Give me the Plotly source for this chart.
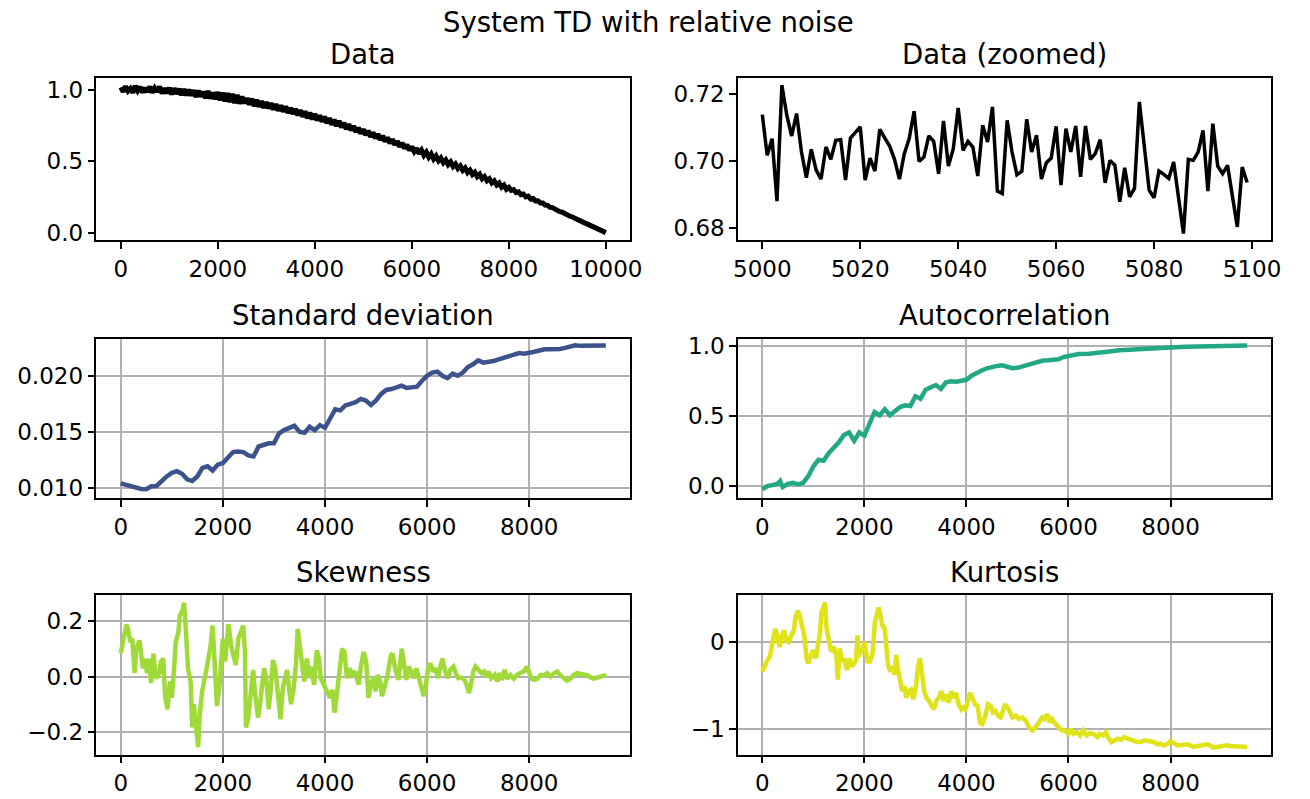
import plotly.graph_objects as go

# ---------------- data ----------------
# Data panel: index (every 50) and values read from the noisy band
data_idx = list(range(0, 10001, 50))
data_val = [
    1.015, 0.985, 1.022, 0.990, 1.008, 0.978, 1.025, 0.992, 1.018, 0.980,
    1.012, 0.983, 1.020, 0.978, 1.010, 0.985, 1.021, 0.972, 1.008, 0.975,
    1.012, 0.966, 1.008, 0.970, 1.005, 0.962, 1.002, 0.960, 0.998, 0.958,
    0.995, 0.948, 0.992, 0.950, 0.985, 0.940, 0.990, 0.938, 0.978, 0.932,
    0.982, 0.925, 0.978, 0.918, 0.975, 0.912, 0.970, 0.905, 0.962, 0.902,
    0.950, 0.905, 0.940, 0.895, 0.935, 0.885, 0.928, 0.880, 0.920, 0.872,
    0.912, 0.868, 0.905, 0.860, 0.898, 0.852, 0.890, 0.845, 0.882, 0.836,
    0.872, 0.830, 0.865, 0.820, 0.857, 0.810, 0.848, 0.800, 0.838, 0.792,
    0.830, 0.784, 0.820, 0.776, 0.810, 0.765, 0.800, 0.755, 0.790, 0.745,
    0.780, 0.736, 0.768, 0.724, 0.758, 0.714, 0.746, 0.703, 0.734, 0.692,
    0.722, 0.682, 0.712, 0.670, 0.700, 0.660, 0.690, 0.648, 0.677, 0.637,
    0.665, 0.625, 0.652, 0.614, 0.640, 0.600, 0.628, 0.588, 0.615, 0.575,
    0.602, 0.566, 0.590, 0.552, 0.576, 0.540, 0.563, 0.527, 0.550, 0.514,
    0.536, 0.502, 0.522, 0.489, 0.508, 0.475, 0.494, 0.462, 0.480, 0.448,
    0.466, 0.435, 0.452, 0.420, 0.437, 0.406, 0.422, 0.391, 0.408, 0.377,
    0.392, 0.363, 0.377, 0.348, 0.362, 0.333, 0.347, 0.318, 0.332, 0.303,
    0.316, 0.295, 0.300, 0.280, 0.285, 0.265, 0.270, 0.250, 0.255, 0.235,
    0.239, 0.222, 0.223, 0.207, 0.207, 0.193, 0.191, 0.177, 0.175, 0.162,
    0.159, 0.147, 0.143, 0.131, 0.127, 0.116, 0.111, 0.101, 0.095, 0.085,
    0.079, 0.070, 0.063, 0.055, 0.047, 0.039, 0.031, 0.024, 0.016, 0.008,
    0.000,
]

# Zoomed data (indices 5000..5099)
zoom_idx = list(range(5000, 5100))
zoom_val = [
    0.7138, 0.7016, 0.7066, 0.6879, 0.7226, 0.7136, 0.7074, 0.7141, 0.7026, 0.6949,
    0.7034, 0.6972, 0.6945, 0.7041, 0.7004, 0.7061, 0.7063, 0.6942, 0.7068, 0.7083,
    0.7101, 0.6942, 0.7008, 0.6969, 0.7094, 0.7068, 0.7044, 0.7004, 0.6945, 0.7021,
    0.7066, 0.7148, 0.6998, 0.7011, 0.7074, 0.7058, 0.6961, 0.7119, 0.6984, 0.7036,
    0.7158, 0.7031, 0.7058, 0.7041, 0.6954, 0.7106, 0.7056, 0.7161, 0.6909, 0.6902,
    0.7121, 0.7026, 0.6958, 0.6968, 0.7124, 0.7026, 0.7076, 0.6945, 0.6994, 0.7008,
    0.7103, 0.6927, 0.7096, 0.7026, 0.7104, 0.6952, 0.7104, 0.7004, 0.7021, 0.7063,
    0.6934, 0.7001, 0.6986, 0.6877, 0.6979, 0.6892, 0.6917, 0.7176, 0.7041, 0.6912,
    0.6889, 0.6969, 0.6959, 0.6947, 0.6996, 0.6887, 0.6782, 0.7004, 0.7001, 0.7026,
    0.7091, 0.6909, 0.7111, 0.6984, 0.6961, 0.6986, 0.6897, 0.6802, 0.6981, 0.6935,
]

# Standard deviation (every 100)
std_idx = list(range(0, 9501, 100))
std_val = [
    0.01038, 0.01025, 0.01006, 0.00994, 0.00988, 0.00985, 0.01012, 0.01015, 0.01059, 0.01100,
    0.01132, 0.01147, 0.01124, 0.01074, 0.01059, 0.01100, 0.01176, 0.01191, 0.01153, 0.01206,
    0.01220, 0.01265, 0.01318, 0.01324, 0.01318, 0.01288, 0.01279, 0.01368, 0.01382, 0.01397,
    0.01397, 0.01485, 0.01515, 0.01529, 0.01553, 0.01500, 0.01491, 0.01544, 0.01515, 0.01559,
    0.01535, 0.01618, 0.01700, 0.01691, 0.01735, 0.01750, 0.01765, 0.01794, 0.01779, 0.01740,
    0.01780, 0.01838, 0.01874, 0.01882, 0.01897, 0.01912, 0.01891, 0.01897, 0.01903, 0.01956,
    0.02000, 0.02029, 0.02038, 0.02000, 0.01979, 0.02020, 0.02000, 0.02029, 0.02079, 0.02103,
    0.02138, 0.02118, 0.02124, 0.02132, 0.02147, 0.02162, 0.02176, 0.02191, 0.02203, 0.02197,
    0.02203, 0.02215, 0.02226, 0.02238, 0.02238, 0.02235, 0.02241, 0.02250, 0.02265, 0.02274,
    0.02268, 0.02268, 0.02271, 0.02274, 0.02274, 0.02271,
]

# Autocorrelation
ac_idx = [0, 50, 100, 200, 300, 350, 400, 500, 600, 700, 800, 900, 1000, 1100, 1200, 1300,
          1400, 1500, 1600, 1700, 1800, 1900, 2000, 2100, 2200, 2300, 2400, 2500, 2600, 2700,
          2800, 2900, 3000, 3100, 3200, 3300, 3400, 3500, 3600, 3700, 3800, 3900, 4000, 4100,
          4200, 4300, 4400, 4500, 4600, 4700, 4800, 4900, 5000, 5100, 5200, 5300, 5400, 5500,
          5600, 5700, 5800, 5900, 6000, 6200, 6400, 6600, 6800, 7000, 7200, 7400, 7600, 7800,
          8000, 8300, 8600, 9000, 9500]
ac_val = [-0.023, -0.012, 0.0, 0.007, 0.016, 0.035, -0.007, 0.016, 0.023, 0.012, 0.023, 0.07,
          0.14, 0.187, 0.18, 0.234, 0.269, 0.311, 0.363, 0.382, 0.321, 0.382, 0.358, 0.452,
          0.527, 0.504, 0.546, 0.504, 0.532, 0.562, 0.574, 0.569, 0.639, 0.621, 0.686, 0.703,
          0.719, 0.691, 0.738, 0.745, 0.742, 0.749, 0.756, 0.785, 0.808, 0.822, 0.838, 0.850,
          0.855, 0.859, 0.850, 0.838, 0.841, 0.853, 0.864, 0.876, 0.888, 0.893, 0.895, 0.900,
          0.902, 0.918, 0.925, 0.939, 0.942, 0.946, 0.958, 0.967, 0.972, 0.977, 0.979, 0.981,
          0.986, 0.991, 0.995, 0.998, 1.0]

# Skewness
sk_idx = [0, 40, 110, 142, 187, 226, 271, 303, 368, 432, 465, 516, 548, 594, 639, 690, 755,
          787, 832, 871, 916, 961, 1000, 1045, 1077, 1129, 1155, 1206, 1239, 1271, 1316, 1368,
          1400, 1432, 1477, 1516, 1542, 1594, 1658, 1710, 1755, 1800, 1839, 1884, 1929, 1968,
          2000, 2045, 2110, 2161, 2206, 2252, 2303, 2355, 2400, 2432, 2452, 2497, 2548, 2594,
          2626, 2690, 2742, 2806, 2852, 2897, 2935, 2981, 3026, 3077, 3129, 3174, 3219, 3258,
          3303, 3335, 3387, 3432, 3465, 3497, 3529, 3561, 3594, 3645, 3690, 3735, 3787, 3839,
          3884, 3916, 3981, 4045, 4097, 4142, 4187, 4239, 4290, 4335, 4381, 4432, 4484, 4529,
          4594, 4658, 4703, 4755, 4806, 4852, 4903, 4948, 4987, 5032, 5077, 5116, 5161, 5226,
          5290, 5323, 5374, 5439, 5503, 5548, 5594, 5645, 5697, 5742, 5787, 5839, 5890, 5935,
          5968, 6019, 6065, 6110, 6161, 6213, 6258, 6303, 6355, 6406, 6452, 6516, 6561, 6613,
          6677, 6729, 6774, 6819, 6858, 6903, 6948, 7000, 7065, 7116, 7161, 7206, 7258, 7323,
          7374, 7419, 7465, 7516, 7568, 7632, 7697, 7761, 7839, 7903, 7955, 8000, 8045, 8110,
          8161, 8226, 8290, 8355, 8419, 8484, 8548, 8613, 8677, 8742, 8806, 8871, 8935, 9013,
          9077, 9142, 9206, 9271, 9335, 9400, 9465, 9500]
sk_val = [0.085, 0.12, 0.188, 0.173, 0.125, 0.137, 0.012, 0.10, 0.131, 0.03, 0.065, 0.012,
          0.065, -0.024, 0.083, -0.006, 0.012, 0.054, 0.065, -0.077, -0.119, -0.018, -0.077,
          0.03, 0.125, 0.161, 0.22, 0.238, 0.268, 0.185, 0.03, -0.018, -0.185, -0.10, -0.173,
          -0.256, -0.149, -0.054, 0.006, 0.054, 0.107, 0.185, 0.065, -0.107, -0.042, 0.065,
          0.137, 0.054, 0.19, 0.113, 0.083, 0.042, 0.137, 0.167, 0.185, 0.089, -0.185, -0.149,
          -0.042, 0.024, -0.054, -0.149, -0.077, 0.03, -0.012, -0.119, -0.054, 0.06, 0.03,
          -0.077, -0.155, -0.042, 0.006, 0.024, -0.054, -0.10, -0.042, 0.048, 0.173, 0.125,
          0.065, 0.006, -0.018, 0.065, -0.006, 0.036, -0.03, 0.095, 0.065, -0.006, -0.03,
          -0.054, -0.077, -0.048, -0.131, -0.054, 0.03, 0.101, 0.089, -0.006, 0.03, 0.006,
          0.018, -0.03, 0.036, 0.089, 0.054, -0.077, -0.018, -0.012, -0.054, 0.006, -0.018,
          -0.071, -0.042, 0.006, 0.077, 0.083, 0.03, -0.012, 0.101, 0.048, -0.012, 0.036,
          0.018, -0.006, 0.03, -0.006, -0.042, -0.071, -0.042, 0.03, 0.048, 0.018, 0.03,
          -0.006, 0.036, 0.065, 0.018, -0.006, 0.024, 0.036, 0.012, -0.006, -0.004, -0.012,
          -0.03, -0.06, -0.03, 0.018, 0.036, 0.024, 0.012, 0.018, 0.0, 0.018, -0.006, 0.006,
          -0.018, 0.012, -0.012, 0.024, -0.008, 0.006, -0.008, 0.006, 0.012, 0.02, 0.036,
          0.012, -0.008, -0.012, -0.008, 0.006, 0.004, 0.012, 0.0, 0.012, 0.018, 0.004,
          -0.008, -0.015, -0.008, 0.006, 0.012, 0.008, 0.006, 0.004, -0.004, -0.008, -0.004,
          0.0, 0.004, 0.0]

# Kurtosis
ku_idx = [0, 39, 84, 148, 193, 232, 257, 296, 341, 386, 424, 469, 514, 566, 617, 650, 695,
          733, 778, 823, 868, 900, 952, 997, 1048, 1093, 1132, 1158, 1196, 1228, 1260, 1305,
          1350, 1402, 1453, 1479, 1518, 1563, 1608, 1659, 1711, 1756, 1801, 1839, 1865, 1891,
          1929, 1968, 2000, 2032, 2064, 2109, 2161, 2206, 2251, 2283, 2315, 2354, 2399, 2431,
          2463, 2508, 2559, 2592, 2624, 2656, 2701, 2740, 2785, 2817, 2868, 2913, 2958, 3010,
          3048, 3087, 3125, 3170, 3215, 3267, 3318, 3363, 3408, 3460, 3511, 3556, 3601, 3653,
          3704, 3749, 3794, 3846, 3897, 3942, 3974, 4026, 4071, 4116, 4167, 4219, 4264, 4309,
          4360, 4424, 4476, 4521, 4566, 4617, 4669, 4714, 4759, 4810, 4858, 4903, 4968, 5032,
          5097, 5161, 5226, 5290, 5355, 5419, 5484, 5529, 5581, 5632, 5677, 5742, 5806, 5871,
          5935, 6000, 6045, 6097, 6161, 6226, 6290, 6355, 6419, 6484, 6561, 6613, 6677, 6729,
          6774, 6839, 6903, 6968, 7032, 7097, 7161, 7226, 7290, 7355, 7419, 7484, 7548, 7613,
          7677, 7742, 7806, 7871, 7935, 8000, 8065, 8129, 8194, 8258, 8323, 8387, 8452, 8516,
          8581, 8645, 8710, 8774, 8839, 8903, 8968, 9032, 9097, 9161, 9226, 9290, 9355, 9419,
          9500]
ku_val = [-0.34, -0.283, -0.226, -0.17, 0.0, 0.094, 0.151, 0.038, -0.057, 0.075, 0.132, 0.019,
          0.0, 0.075, 0.132, 0.283, 0.358, 0.302, 0.189, 0.075, -0.189, -0.245, -0.151, -0.094,
          -0.189, 0.0, 0.113, 0.34, 0.415, 0.453, 0.151, 0.0, -0.113, -0.057, -0.17, -0.434,
          -0.075, -0.226, -0.189, -0.321, -0.189, -0.283, -0.245, -0.208, 0.075, -0.17, -0.113,
          -0.075, 0.0, -0.094, -0.226, -0.226, -0.132, 0.226, 0.34, 0.396, 0.302, 0.189, 0.151,
          -0.113, -0.264, -0.34, -0.283, -0.377, -0.151, -0.302, -0.453, -0.566, -0.509, -0.642,
          -0.566, -0.547, -0.66, -0.509, -0.302, -0.189, -0.34, -0.566, -0.642, -0.679, -0.736,
          -0.774, -0.679, -0.642, -0.566, -0.679, -0.604, -0.698, -0.566, -0.642, -0.585, -0.717,
          -0.774, -0.736, -0.792, -0.66, -0.585, -0.642, -0.717, -0.736, -0.925, -0.943, -0.868,
          -0.717, -0.736, -0.811, -0.792, -0.849, -0.868, -0.792, -0.717, -0.755, -0.83, -0.868,
          -0.849, -0.887, -0.868, -0.906, -0.981, -1.019, -0.981, -0.925, -0.868, -0.887, -0.83,
          -0.925, -0.887, -0.943, -0.981, -1.019, -1.019, -1.057, -1.0, -1.057, -1.038, -1.075,
          -1.019, -1.075, -1.049, -1.057, -1.094, -1.057, -1.075, -1.038, -1.094, -1.151, -1.132,
          -1.113, -1.125, -1.094, -1.113, -1.132, -1.14, -1.151, -1.151, -1.132, -1.14, -1.151,
          -1.151, -1.177, -1.17, -1.189, -1.177, -1.14, -1.17, -1.189, -1.189, -1.177, -1.177,
          -1.189, -1.208, -1.2, -1.189, -1.177, -1.177, -1.189, -1.215, -1.208, -1.2, -1.192,
          -1.189, -1.196, -1.2, -1.192, -1.196, -1.2, -1.208]

# Colours / text
main_title = "System TD with relative noise"
panel_titles = ["Data", "Data (zoomed)", "Standard deviation", "Autocorrelation",
                "Skewness", "Kurtosis"]
c_std = "#3b528b"
c_ac = "#22a884"
c_sk = "#a0da39"
c_ku = "#dfe318"

# ---------------- figure ----------------
W, H = 1310, 799
FONT = "DejaVu Sans"
TICK = 23
TITLE = 27.5

colx = [(92.7, 633.3), (742.7, 1283.0)]
rowy = [(72.5, 237.5), (337.7, 499.0), (597.7, 759.0)]

def xdom(c):
    return [colx[c][0] / W, colx[c][1] / W]

def ydom(r):
    return [1 - rowy[r][1] / H, 1 - rowy[r][0] / H]

fig = go.Figure()

traces = [
    (data_idx, data_val, "black", 5),
    (zoom_idx, zoom_val, "black", 3.5),
    (std_idx, std_val, c_std, 4.5),
    (ac_idx, ac_val, c_ac, 4.5),
    (sk_idx, sk_val, c_sk, 4.5),
    (ku_idx, ku_val, c_ku, 4.5),
]
for i, (x, y, col, w) in enumerate(traces):
    n = "" if i == 0 else str(i + 1)
    fig.add_trace(go.Scatter(x=x, y=y, mode="lines", line=dict(color=col, width=w),
                             xaxis="x" + n, yaxis="y" + n, showlegend=False,
                             hoverinfo="skip"))

axis_common = dict(showline=True, linecolor="black", linewidth=1.6, mirror=True,
                   ticks="outside", ticklen=7, tickwidth=1.6, tickcolor="black",
                   zeroline=False, tickfont=dict(family=FONT, size=TICK, color="black"))

xranges = [[-500, 10500], [4995.05, 5103.95], [-475, 9975], [-475, 9975], [-475, 9975], [-475, 9975]]
xticks = [[0, 2000, 4000, 6000, 8000, 10000], [5000, 5020, 5040, 5060, 5080, 5100],
          [0, 2000, 4000, 6000, 8000]] + [[0, 2000, 4000, 6000, 8000]] * 3
yranges = [[-0.053, 1.084], [0.6762, 0.7249], [0.00906, 0.02329], [-0.086, 1.046],
           [-0.283, 0.294], [-1.295, 0.535]]
yticks = [[0.0, 0.5, 1.0], [0.68, 0.70, 0.72], [0.010, 0.015, 0.020], [0.0, 0.5, 1.0],
          [-0.2, 0.0, 0.2], [-1, 0]]
yfmt = [".1f", ".2f", ".3f", ".1f", ".1f", "d"]

layout = dict(width=W, height=H, margin=dict(l=0, r=0, t=0, b=0),
              paper_bgcolor="white", plot_bgcolor="white",
              font=dict(family=FONT, color="black"), showlegend=False)
annotations = []
for i in range(6):
    r, c = divmod(i, 2)
    n = "" if i == 0 else str(i + 1)
    grid = i >= 2
    layout["xaxis" + n] = dict(axis_common, domain=xdom(c), anchor="y" + n,
                               range=xranges[i], tickmode="array", tickvals=xticks[i],
                               tickformat="d",
                               showgrid=grid, gridcolor="#b0b0b0", gridwidth=1.6)
    layout["yaxis" + n] = dict(axis_common, domain=ydom(r), anchor="x" + n,
                               range=yranges[i], tickmode="array", tickvals=yticks[i],
                               tickformat=yfmt[i],
                               showgrid=grid, gridcolor="#b0b0b0", gridwidth=1.6)
    xc = (colx[c][0] + colx[c][1]) / 2 / W
    annotations.append(dict(text=panel_titles[i], x=xc, y=1 - (rowy[r][0] - 24) / H,
                            xref="paper", yref="paper", xanchor="center", yanchor="middle",
                            showarrow=False, font=dict(family=FONT, size=TITLE, color="black")))

annotations.append(dict(text=main_title, x=652 / W, y=1 - 16 / H, xref="paper", yref="paper",
                        xanchor="center", yanchor="middle", showarrow=False,
                        font=dict(family=FONT, size=TITLE, color="black")))
layout["annotations"] = annotations
fig.update_layout(**layout)

fig.write_html("out.html")
